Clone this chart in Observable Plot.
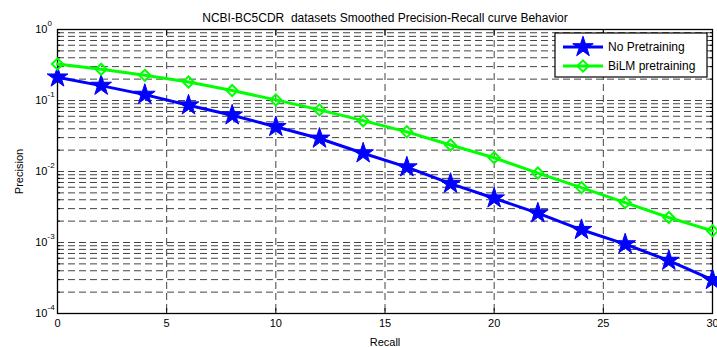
<!DOCTYPE html>
<html><head><meta charset="utf-8">
<script src="https://cdn.jsdelivr.net/npm/d3@7"></script>
<script src="https://cdn.jsdelivr.net/npm/@observablehq/plot@0.6"></script>
<style>body{margin:0;background:#fff;font-family:"Liberation Sans",Arial,sans-serif}</style>
</head><body><div id="chart"></div>
<script>
const title = "NCBI-BC5CDR  datasets Smoothed Precision-Recall curve Behavior";
const seriesNames = ["No Pretraining", "BiLM pretraining"];
const seriesColors = ["#0000ff", "#00ff00"];
const recall = [0, 2, 4, 6, 8, 10, 12, 14, 16, 18, 20, 22, 24, 26, 28, 30];
const noPretraining = [0.212, 0.162, 0.121, 0.0858, 0.062, 0.0426, 0.0292, 0.0181, 0.0115, 0.00675, 0.0042, 0.00259, 0.00151, 0.00095, 0.000555, 0.000297];
const bilmPretraining = [0.326, 0.275, 0.226, 0.182, 0.138, 0.102, 0.0737, 0.0520, 0.0362, 0.0236, 0.0156, 0.0095, 0.00593, 0.00365, 0.00225, 0.00146];
const xTicks = [0, 5, 10, 15, 20, 25, 30];
const yTicks = [1e-4, 1e-3, 1e-2, 1e-1, 1];
const yExponents = ["-4", "-3", "-2", "-1", "0"];

const data = [];
recall.forEach((r, i) => {
  data.push({recall: r, precision: noPretraining[i], series: seriesNames[0]});
  data.push({recall: r, precision: bilmPretraining[i], series: seriesNames[1]});
});
const yGrid = [];
for (let d = -4; d <= -1; d++) for (let k = 1; k <= 9; k++) yGrid.push(k * Math.pow(10, d));
yGrid.push(1);
const yMinor = yGrid.filter(v => !yTicks.includes(v));
const yLabels = yTicks.map((v, i) => ({v, e: yExponents[i]}));

const gridStyle = {stroke: "#444", strokeOpacity: 1, strokeWidth: 1, strokeDasharray: "7,4"};

const plot = Plot.plot({
  width: 717, height: 347,
  marginLeft: 57, marginRight: 5, marginTop: 29, marginBottom: 34,
  style: {fontFamily: "'Liberation Sans', Arial, sans-serif", fontSize: "11px", background: "white", color: "black"},
  x: {domain: [0, 30]},
  y: {type: "log", domain: [1e-4, 1]},
  color: {domain: seriesNames, range: seriesColors},
  marks: [
    Plot.ruleY(yGrid, {y: d => d, ...gridStyle}),
    Plot.ruleX(xTicks.slice(1, -1), {x: d => d, ...gridStyle}),
    Plot.axisX({ticks: xTicks, tickSize: 0, tickPadding: 6, tickFormat: d => String(d), label: "Recall", labelAnchor: "center", labelArrow: "none", labelOffset: 32, fontSize: 11}),
    Plot.axisX({ticks: xTicks, anchor: "bottom", tickSize: -5, text: null, label: null, strokeWidth: 1}),
    Plot.axisX({ticks: xTicks, anchor: "top", tickSize: -5, text: null, label: null, strokeWidth: 1}),
    Plot.axisY({ticks: yMinor, anchor: "left", tickSize: -3, text: null, label: null}),
    Plot.axisY({ticks: yMinor, anchor: "right", tickSize: -3, text: null, label: null}),
    Plot.axisY({ticks: yTicks, anchor: "left", tickSize: 0, text: null, label: "Precision", labelAnchor: "center", labelArrow: "none", labelOffset: 42, fontSize: 11}),
    Plot.text(yLabels, {y: "v", text: () => "10", frameAnchor: "left", dx: -10, textAnchor: "end", fontSize: 11}),
    Plot.text(yLabels, {y: "v", text: "e", frameAnchor: "left", dx: -10, dy: -6, textAnchor: "start", fontSize: 8}),
    Plot.frame({stroke: "black", strokeWidth: 1.3}),
    Plot.line(data, {x: "recall", y: "precision", z: "series", stroke: "series", strokeWidth: 3}),
    Plot.dot(data.filter(d => d.series === seriesNames[0]), {x: "recall", y: "precision", symbol: "star", r: 6.5, fill: seriesColors[0], stroke: seriesColors[0], strokeWidth: 1}),
    Plot.dot(data.filter(d => d.series === seriesNames[1]), {x: "recall", y: "precision", symbol: "diamond2", r: 5, fill: "none", stroke: seriesColors[1], strokeWidth: 2}),
    Plot.text([title], {text: d => d, frameAnchor: "top", dy: -16, fontSize: 12})
  ]
});
document.getElementById("chart").appendChild(plot);

// legend
const svg = d3.select(plot);
const lx = 555, ly = 33, lw = 152, lh = 44;
const lg = svg.append("g").attr("font-family", "'Liberation Sans', Arial, sans-serif").attr("font-size", 12).attr("text-anchor", "start");
lg.append("rect").attr("x", lx).attr("y", ly).attr("width", lw).attr("height", lh).attr("fill", "white").attr("stroke", "black").attr("stroke-width", 1.2);
const rows = [{y: ly + 14, sym: d3.symbolStar, size: 130, fill: seriesColors[0]}, {y: ly + 33, sym: d3.symbolDiamond2, size: 80, fill: "none"}];
rows.forEach((r, i) => {
  lg.append("line").attr("x1", lx + 8).attr("x2", lx + 48).attr("y1", r.y).attr("y2", r.y).attr("stroke", seriesColors[i]).attr("stroke-width", 3);
  lg.append("path").attr("d", d3.symbol(r.sym, r.size)()).attr("transform", `translate(${lx + 28},${r.y})`)
    .attr("fill", r.fill).attr("stroke", seriesColors[i]).attr("stroke-width", i === 0 ? 1 : 2);
  lg.append("text").attr("x", lx + 53).attr("y", r.y).attr("dy", "0.35em").attr("fill", "black").text(seriesNames[i]);
});
</script>
</body></html>
